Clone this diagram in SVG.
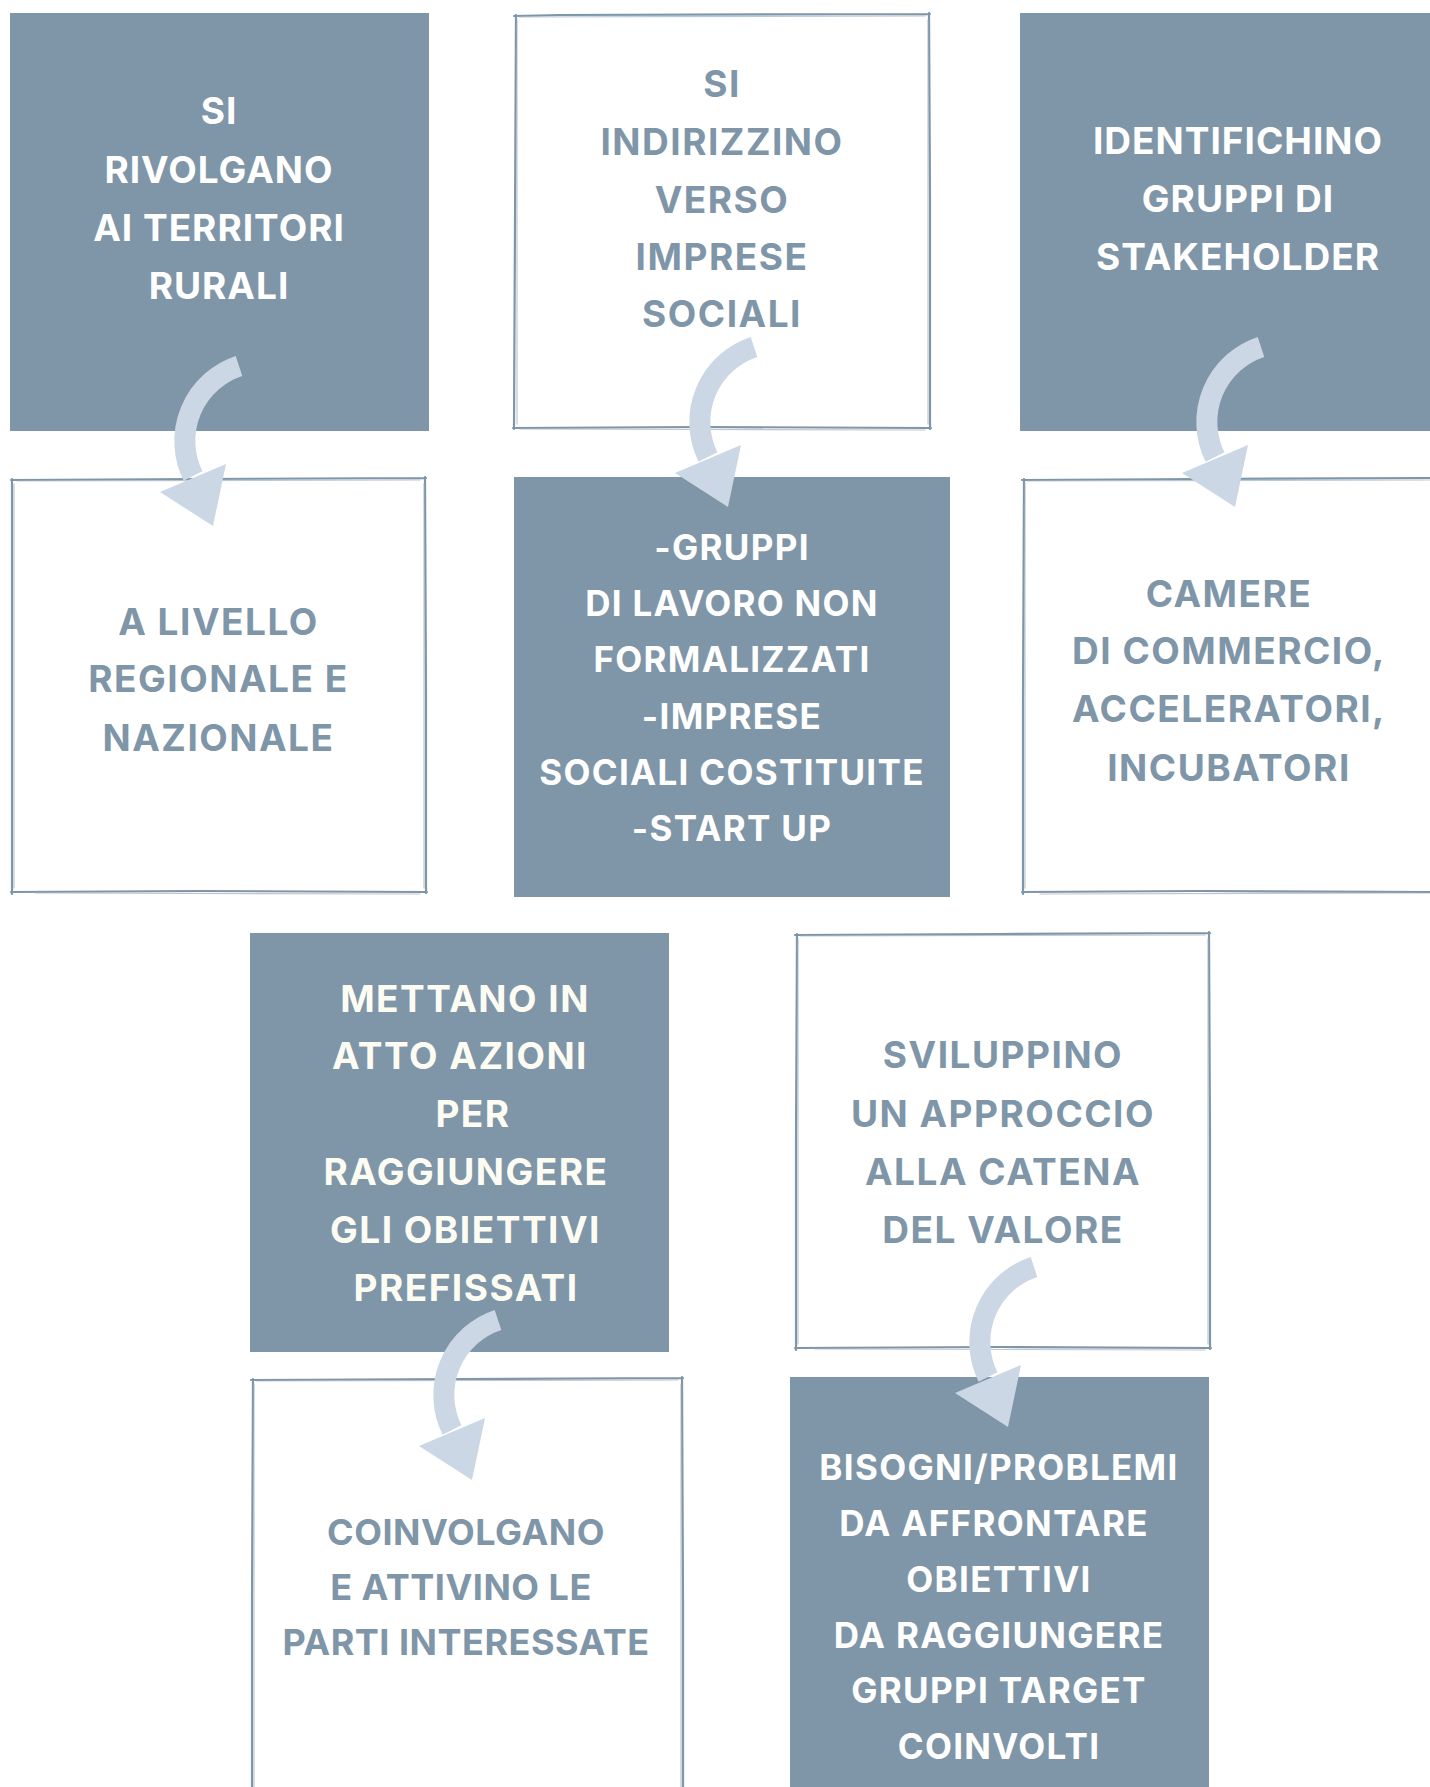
<svg xmlns="http://www.w3.org/2000/svg" width="1430" height="1787" viewBox="0 0 1430 1787">
<style>
.fill{fill:#7f95a8}
.out{fill:#ffffff}
.sk{fill:none;stroke:#7f95a8;stroke-width:2.2;stroke-linecap:round}
.sk2{fill:none;stroke:#9fb0bf;stroke-width:1.2;stroke-linecap:round;opacity:.7}
.t{font-family:Inter,"Open Sans","DejaVu Sans",sans-serif;font-weight:700;text-anchor:middle}
.tw{fill:#ffffff;font-size:35px;letter-spacing:1.3px}
.tb{fill:#ffffff;font-size:37px;letter-spacing:1px}
.tc{fill:#fcfcf3;font-size:37px;letter-spacing:1.5px}
.tg{fill:#7f95a8;font-size:37px;letter-spacing:1.5px}
.tg9{fill:#7f95a8;font-size:36px;letter-spacing:0.5px}
.arr{fill:#cbd7e4}
.band{fill:none;stroke:#cbd7e4;stroke-width:21}
</style>
<defs>
<g id="arrow">
<path class="band" d="M26,-160 A79,79 0 0 0 -20,-50"/>
<polygon class="arr" points="-53,-34 13,-62 0,0"/>
</g>
</defs>
<rect width="1430" height="1787" fill="#ffffff"/>

<g id="node-1">
<rect class="fill" x="10" y="13" width="419" height="418"/>
<text class="t tb" x="219" y="124">SI</text>
<text class="t tb" x="219" y="183">RIVOLGANO</text>
<text class="t tb" x="219" y="241">AI TERRITORI</text>
<text class="t tb" x="219" y="299">RURALI</text>
</g>

<g id="node-2">
<rect class="out" x="515" y="15" width="414" height="413"/>
<path class="sk" d="M514,16 L560,15 L930,14 M929,13 L930,200 L930,429 M931,428 L700,427 L513,428 M514,429 L515,220 L516,15"/>
<path class="sk2" d="M520,17 L925,16 M928,20 L928,424 M925,430 L520,429 M517,424 L517,20"/>
<text class="t tg" x="722" y="97">SI</text>
<text class="t tg" x="722" y="155">INDIRIZZINO</text>
<text class="t tg" x="722" y="213">VERSO</text>
<text class="t tg" x="722" y="270">IMPRESE</text>
<text class="t tg" x="722" y="327">SOCIALI</text>
</g>

<g id="node-3">
<rect class="fill" x="1020" y="13" width="420" height="418"/>
<text class="t tb" x="1238" y="154">IDENTIFICHINO</text>
<text class="t tb" x="1238" y="212">GRUPPI DI</text>
<text class="t tb" x="1238" y="270">STAKEHOLDER</text>
</g>

<g id="node-4">
<rect class="out" x="12" y="479" width="413" height="413"/>
<path class="sk" d="M11,480 L200,479 L426,478 M425,477 L426,700 L426,893 M427,892 L200,891 L11,892 M12,894 L12,700 L12,479"/>
<path class="sk2" d="M18,481 L420,480 M424,484 L424,888 M420,894 L35,893 M14,888 L14,484"/>
<text class="t tg" x="218.5" y="635">A LIVELLO</text>
<text class="t tg" x="218.5" y="692">REGIONALE E</text>
<text class="t tg" x="218.5" y="751">NAZIONALE</text>
</g>

<g id="node-5">
<rect class="fill" x="514" y="477" width="436" height="420"/>
<text class="t tw" x="732" y="560">-GRUPPI</text>
<text class="t tw" x="732" y="616">DI LAVORO NON</text>
<text class="t tw" x="732" y="672">FORMALIZZATI</text>
<text class="t tw" x="732" y="729">-IMPRESE</text>
<text class="t tw" x="732" y="785">SOCIALI COSTITUITE</text>
<text class="t tw" x="732" y="841">-START UP</text>
</g>

<g id="node-6">
<rect class="out" x="1023" y="479" width="420" height="413"/>
<path class="sk" d="M1022,480 L1200,479 L1432,478 M1431,892 L1200,891 L1022,892 M1023,894 L1023,700 L1024,479"/>
<path class="sk2" d="M1028,481 L1430,480 M1040,894 L1430,893 M1025,888 L1025,484"/>
<text class="t tg" x="1229" y="607">CAMERE</text>
<text class="t tg" x="1229" y="664">DI COMMERCIO,</text>
<text class="t tg" x="1229" y="722">ACCELERATORI,</text>
<text class="t tg" x="1229" y="781">INCUBATORI</text>
</g>

<g id="node-7">
<rect class="fill" x="250" y="933" width="419" height="419"/>
<text class="t tc" x="465" y="1012">METTANO IN</text>
<text class="t tc" x="460" y="1069">ATTO AZIONI</text>
<text class="t tc" x="473" y="1127">PER</text>
<text class="t tc" x="466" y="1185">RAGGIUNGERE</text>
<text class="t tc" x="465.5" y="1243">GLI OBIETTIVI</text>
<text class="t tc" x="466" y="1301">PREFISSATI</text>
</g>

<g id="node-8">
<rect class="out" x="796" y="934" width="413" height="414"/>
<path class="sk" d="M795,935 L1000,934 L1210,933 M1209,932 L1210,1140 L1210,1349 M1211,1348 L1000,1347 L795,1348 M796,1350 L796,1140 L797,934"/>
<path class="sk2" d="M801,936 L1205,935 M1208,939 L1208,1344 M1205,1350 L815,1349 M798,1344 L798,939"/>
<text class="t tg" x="1003" y="1068">SVILUPPINO</text>
<text class="t tg" x="1003" y="1127">UN APPROCCIO</text>
<text class="t tg" x="1003" y="1185">ALLA CATENA</text>
<text class="t tg" x="1003" y="1243">DEL VALORE</text>
</g>

<g id="node-9">
<rect class="out" x="252" y="1379" width="430" height="420"/>
<path class="sk" d="M251,1380 L460,1379 L683,1378 M682,1377 L683,1600 L683,1790 M252,1790 L252,1600 L253,1379"/>
<path class="sk2" d="M257,1381 L678,1380 M681,1384 L681,1790 M254,1790 L254,1384"/>
<text class="t tg9" x="466" y="1545">COINVOLGANO</text>
<text class="t tg9" x="461" y="1600">E ATTIVINO LE</text>
<text class="t tg9" x="466" y="1655">PARTI INTERESSATE</text>
</g>

<g id="node-10">
<rect class="fill" x="790" y="1377" width="419" height="420"/>
<text class="t tw" x="999" y="1480">BISOGNI/PROBLEMI</text>
<text class="t tw" x="994" y="1536">DA AFFRONTARE</text>
<text class="t tw" x="999" y="1592">OBIETTIVI</text>
<text class="t tw" x="999" y="1648">DA RAGGIUNGERE</text>
<text class="t tw" x="999" y="1703">GRUPPI TARGET</text>
<text class="t tw" x="999" y="1759">COINVOLTI</text>
</g>

<g id="connectors">
<use href="#arrow" transform="translate(213,526)"/>
<use href="#arrow" transform="translate(728,507)"/>
<use href="#arrow" transform="translate(1235,507)"/>
<use href="#arrow" transform="translate(472,1480)"/>
<use href="#arrow" transform="translate(1008,1427)"/>
</g>
</svg>
